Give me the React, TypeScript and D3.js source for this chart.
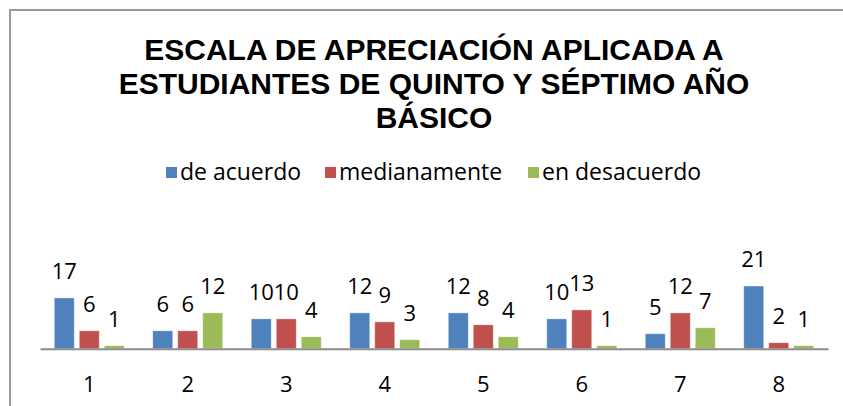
import React, { useRef, useEffect } from 'react';
import * as d3 from 'd3';

const categories = ['1', '2', '3', '4', '5', '6', '7', '8'];
const seriesNames = ['de acuerdo', 'medianamente', 'en desacuerdo'];
const deAcuerdo = [17, 6, 10, 12, 12, 10, 5, 21];
const medianamente = [6, 6, 10, 9, 8, 13, 12, 2];
const enDesacuerdo = [1, 12, 4, 3, 4, 1, 7, 1];
const colors = ['#4F81BD', '#C0504D', '#9BBB59'];
const titleLines = [
  'ESCALA DE APRECIACIÓN APLICADA A',
  'ESTUDIANTES DE QUINTO Y SÉPTIMO AÑO',
  'BÁSICO',
];

const width = 843;
const height = 406;

const Chart = () => {
  const ref = useRef<SVGSVGElement>(null);

  useEffect(() => {
    const svg = d3.select(ref.current);
    svg.selectAll('*').remove();

    const font = "'Open Sans', sans-serif";
    const baseline = 348.7;
    const plotLeft = 40;
    const plotRight = 828;

    // outer chart frame
    svg.append('rect')
      .attr('x', 10).attr('y', 10)
      .attr('width', 900).attr('height', 500)
      .attr('fill', '#fff')
      .attr('stroke', '#9a9a9a')
      .attr('stroke-width', 2);

    svg.append('g')
      .selectAll('text')
      .data(titleLines)
      .join('text')
        .attr('x', 434)
        .attr('y', (d, i) => 60 + i * 34)
        .attr('text-anchor', 'middle')
        .attr('font-family', "'Liberation Sans', Arial, sans-serif")
        .attr('font-weight', 'bold')
        .attr('font-size', 30)
        .attr('fill', '#000')
        .text(d => d);

    // legend
    const legendX = [166, 325, 528];
    const legend = svg.append('g')
      .selectAll('g')
      .data(seriesNames)
      .join('g')
        .attr('transform', (d, i) => `translate(${legendX[i]},167)`);
    legend.append('rect')
      .attr('width', 11).attr('height', 11)
      .attr('fill', (d, i) => colors[i]);
    legend.append('text')
      .attr('x', 14).attr('y', 13)
      .attr('font-family', font)
      .attr('font-size', 23)
      .attr('fill', '#000')
      .text(d => d);

    const data = categories.map((c, i) => ({
      cat: c,
      values: [deAcuerdo[i], medianamente[i], enDesacuerdo[i]],
    }));

    const x = d3.scaleBand()
      .domain(categories)
      .range([plotLeft, plotRight]);

    const inner = d3.scaleBand()
      .domain(seriesNames)
      .range([x.bandwidth() / 2 - 35, x.bandwidth() / 2 + 35])
      .paddingInner(0.2);

    const y = d3.scaleLinear()
      .domain([0, 21])
      .range([baseline, 286]);

    const groups = svg.append('g')
      .selectAll('g')
      .data(data)
      .join('g')
        .attr('transform', d => `translate(${x(d.cat)},0)`);

    groups.selectAll('rect')
      .data(d => d.values.map((v, i) => ({ v, s: seriesNames[i], i })))
      .join('rect')
        .attr('x', d => inner(d.s))
        .attr('y', d => y(d.v))
        .attr('width', inner.bandwidth())
        .attr('height', d => baseline - y(d.v))
        .attr('fill', d => colors[d.i])
        .attr('stroke', '#fff')
        .attr('stroke-opacity', 0.5)
        .attr('stroke-width', 0.8);

    groups.selectAll('text')
      .data(d => d.values.map((v, i) => ({ v, s: seriesNames[i] })))
      .join('text')
        .attr('x', d => inner(d.s) + inner.bandwidth() / 2)
        .attr('y', d => y(d.v) - 19)
        .attr('text-anchor', 'middle')
        .attr('font-family', font)
        .attr('font-size', 22)
        .attr('fill', '#000')
        .text(d => d.v);

    // category axis
    svg.append('g')
      .attr('transform', `translate(0,${baseline})`)
      .call(d3.axisBottom(x).tickSize(0).tickPadding(28))
      .call(g => g.select('.domain').attr('stroke', '#8c8c8c').attr('stroke-width', 2))
      .selectAll('text')
        .attr('font-family', font)
        .attr('font-size', 22)
        .attr('fill', '#000');
  }, []);

  return (
    <svg ref={ref} width={width} height={height}
      style={{ position: 'absolute', left: 0, top: 0, background: '#fff' }} />
  );
};

export default function App() {
  return <Chart />;
}
